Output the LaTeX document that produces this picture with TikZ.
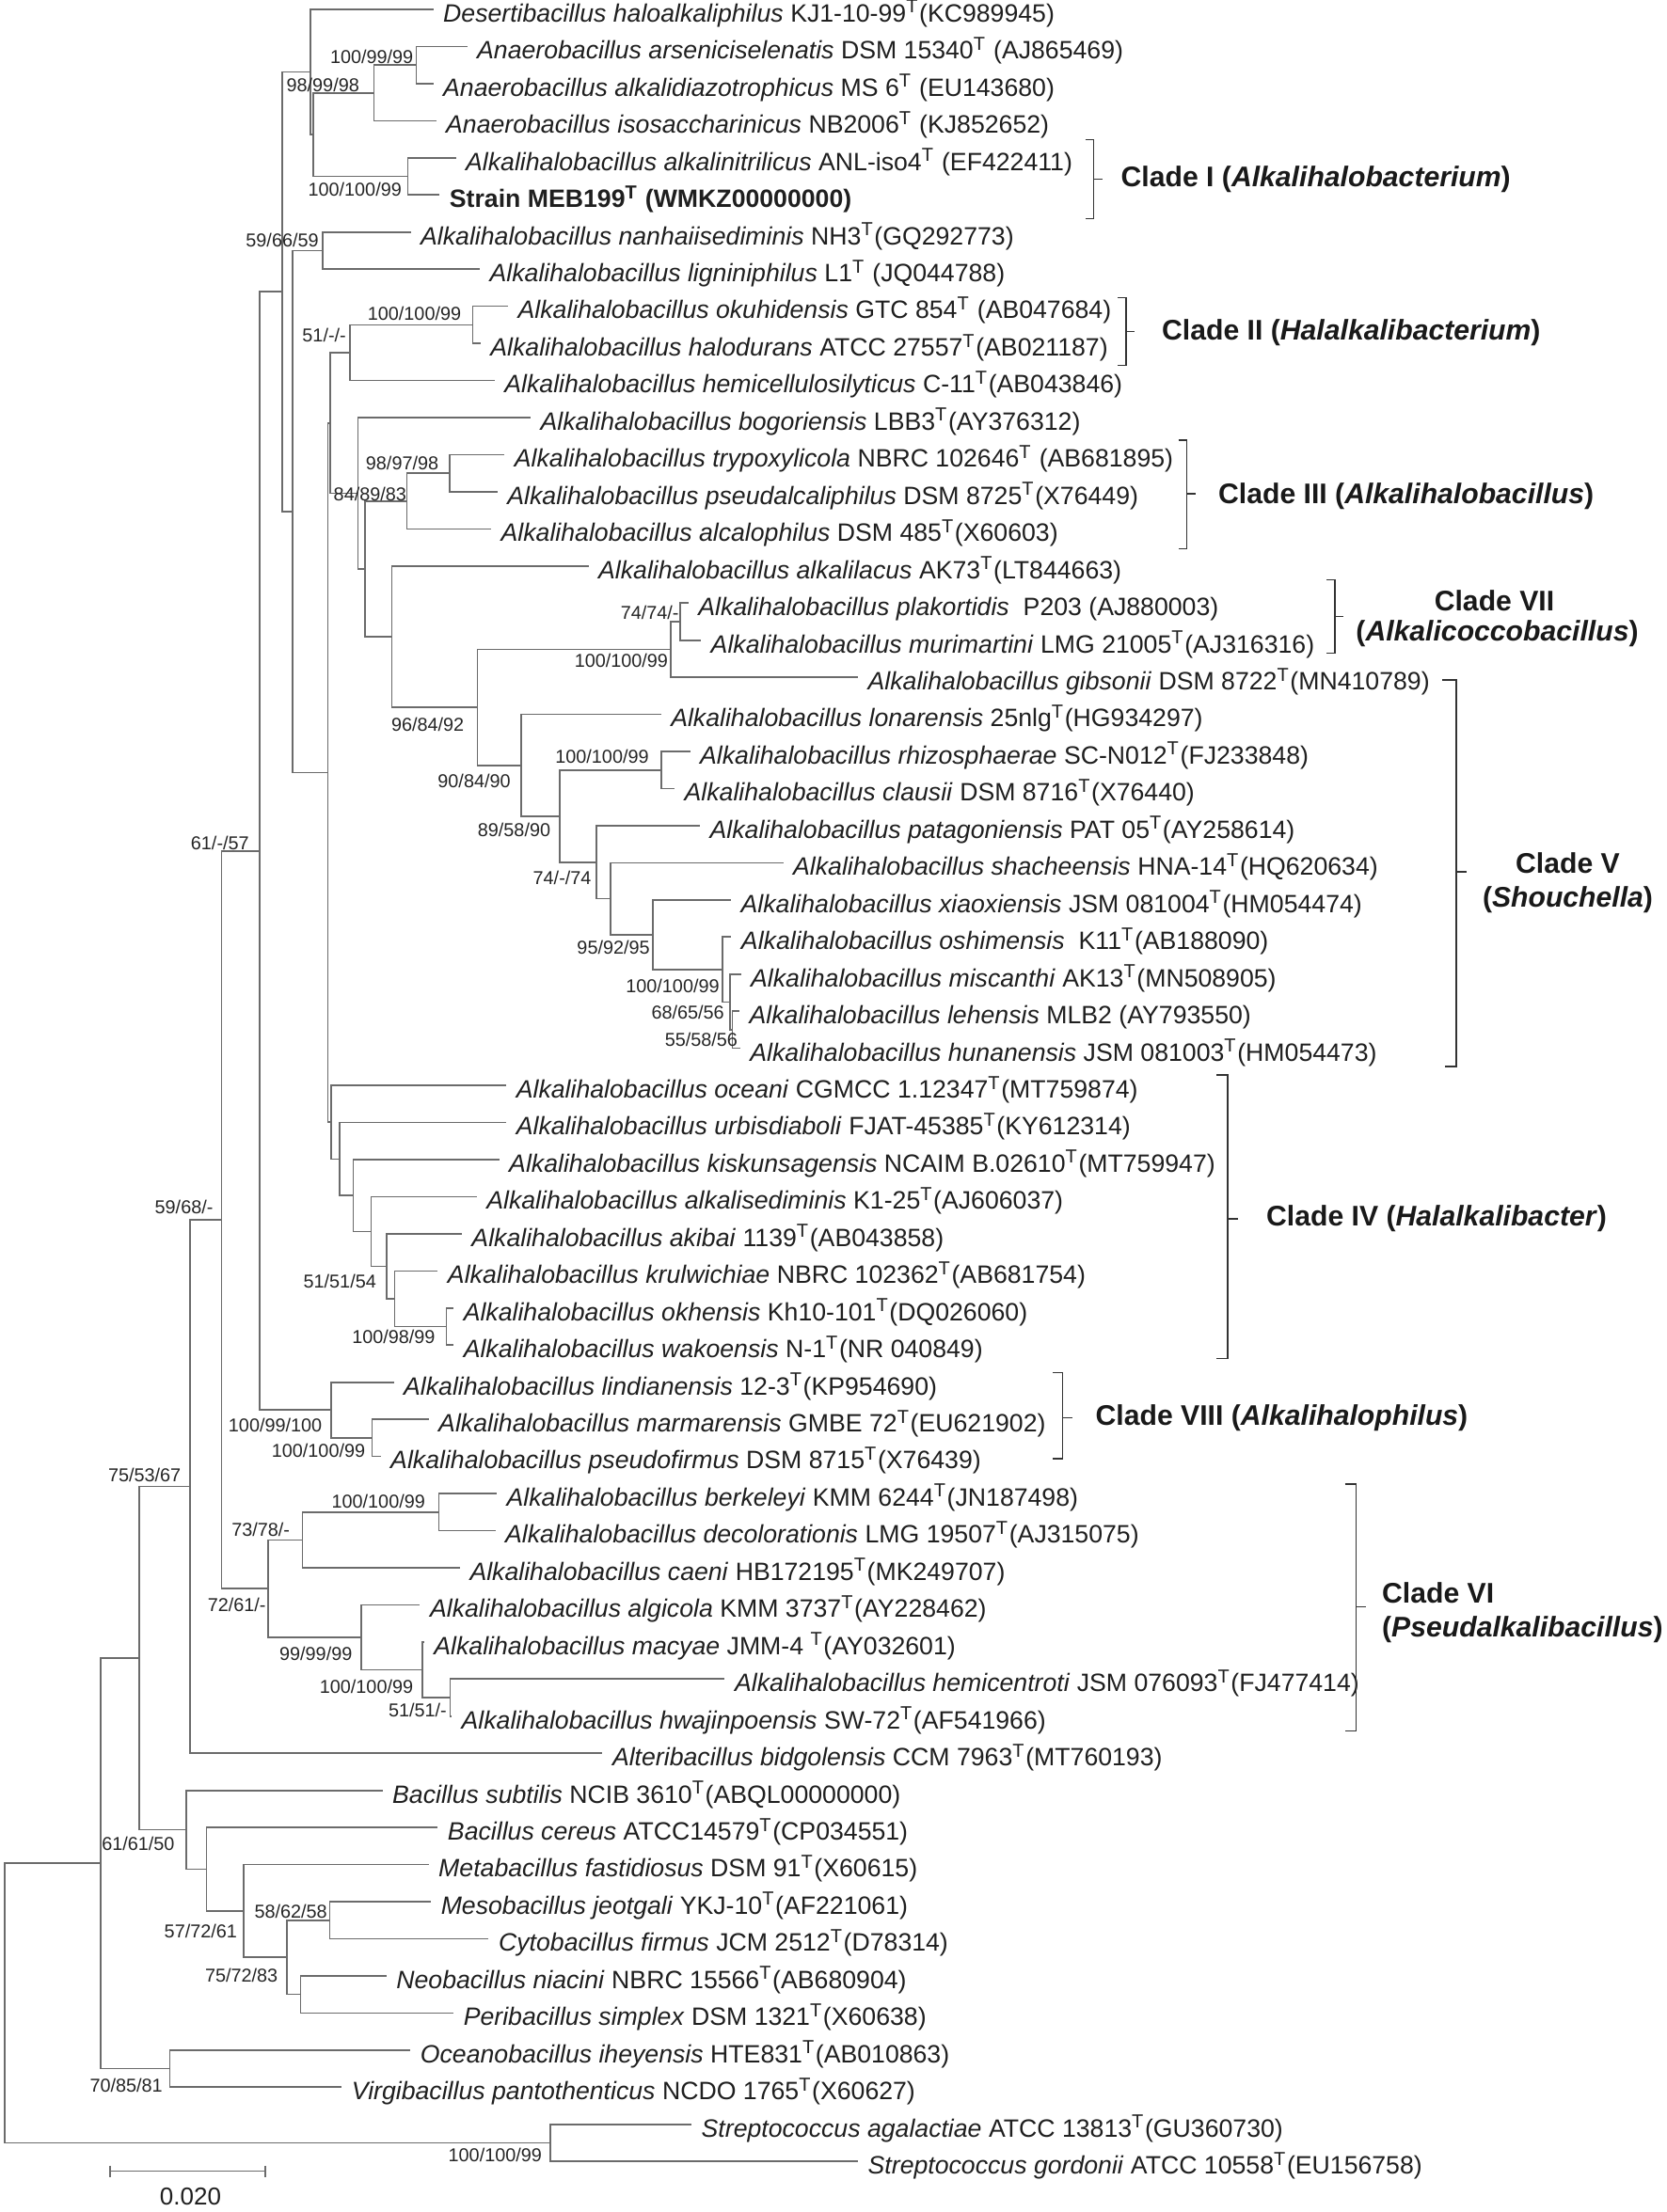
\documentclass[tikz,border=0pt]{standalone}
\usepackage{fontspec}
\setmainfont{Liberation Sans}
\newcommand\leaffont{\fontsize{8.0pt}{9pt}\selectfont}
\newcommand\bsfont{\fontsize{5.95pt}{7pt}\selectfont}
\newcommand\cladefont{\fontsize{9.05pt}{11pt}\selectfont\bfseries}
\newcommand\ST{\textsuperscript{T}}
\newcommand\yy[1]{6.7+(#1-1)*26.3}
\begin{document}
\begin{tikzpicture}[x=0.45pt,y=-0.45pt,
  br/.style={draw=black!58, line width=0.5pt},
  leaf/.style={anchor=west, inner xsep=3pt, inner ysep=0pt, font=\leaffont, text height=0.9em, text depth=0.1em, text=black!88},
  bs/.style={anchor=east, inner sep=0pt, font=\bsfont, text=black!85},
  clade/.style={anchor=west, inner sep=0pt, font=\cladefont, text=black!90},
  cladec/.style={anchor=center, inner sep=0pt, font=\cladefont, text=black!90},
  brk/.style={draw=black!80, line width=0.55pt}]
\fill[white] (0,0) rectangle (1181,1568);
\useasboundingbox (0,0) rectangle (1181,1568);

% ---------- leaves ----------
\node[leaf] (l1) at (307,{\yy{1}}) {\textit{Desertibacillus haloalkaliphilus} KJ1-10-99\ST(KC989945)};
\node[leaf] (l2) at (331,{\yy{2}}) {\textit{Anaerobacillus arseniciselenatis} DSM 15340\ST\ (AJ865469)};
\node[leaf] (l3) at (307,{\yy{3}}) {\textit{Anaerobacillus alkalidiazotrophicus} MS 6\ST\ (EU143680)};
\node[leaf] (l4) at (309,{\yy{4}}) {\textit{Anaerobacillus isosaccharinicus} NB2006\ST\ (KJ852652)};
\node[leaf] (l5) at (323,{\yy{5}}) {\textit{Alkalihalobacillus alkalinitrilicus} ANL-iso4\ST\ (EF422411)};
\node[leaf] (l6) at (311.5,{\yy{6}}) {\textbf{Strain MEB199\ST\ (WMKZ00000000)}};
\node[leaf] (l7) at (291,{\yy{7}}) {\textit{Alkalihalobacillus nanhaiisediminis} NH3\ST(GQ292773)};
\node[leaf] (l8) at (340,{\yy{8}}) {\textit{Alkalihalobacillus ligniniphilus} L1\ST\ (JQ044788)};
\node[leaf] (l9) at (360,{\yy{9}}) {\textit{Alkalihalobacillus okuhidensis} GTC 854\ST\ (AB047684)};
\node[leaf] (l10) at (340.5,{\yy{10}}) {\textit{Alkalihalobacillus halodurans} ATCC 27557\ST(AB021187)};
\node[leaf] (l11) at (350.5,{\yy{11}}) {\textit{Alkalihalobacillus hemicellulosilyticus} C-11\ST(AB043846)};
\node[leaf] (l12) at (376,{\yy{12}}) {\textit{Alkalihalobacillus bogoriensis} LBB3\ST(AY376312)};
\node[leaf] (l13) at (357.5,{\yy{13}}) {\textit{Alkalihalobacillus trypoxylicola} NBRC 102646\ST\ (AB681895)};
\node[leaf] (l14) at (352.5,{\yy{14}}) {\textit{Alkalihalobacillus pseudalcaliphilus} DSM 8725\ST(X76449)};
\node[leaf] (l15) at (348,{\yy{15}}) {\textit{Alkalihalobacillus alcalophilus} DSM 485\ST(X60603)};
\node[leaf] (l16) at (417,{\yy{16}}) {\textit{Alkalihalobacillus alkalilacus} AK73\ST(LT844663)};
\node[leaf] (l17) at (487.8,{\yy{17}}) {\textit{Alkalihalobacillus plakortidis}\ \ P203 (AJ880003)};
\node[leaf] (l18) at (496.7,{\yy{18}}) {\textit{Alkalihalobacillus murimartini} LMG 21005\ST(AJ316316)};
\node[leaf] (l19) at (608,{\yy{19}}) {\textit{Alkalihalobacillus gibsonii} DSM 8722\ST(MN410789)};
\node[leaf] (l20) at (468.4,{\yy{20}}) {\textit{Alkalihalobacillus lonarensis} 25nlg\ST(HG934297)};
\node[leaf] (l21) at (489,{\yy{21}}) {\textit{Alkalihalobacillus rhizosphaerae} SC-N012\ST(FJ233848)};
\node[leaf] (l22) at (478,{\yy{22}}) {\textit{Alkalihalobacillus clausii} DSM 8716\ST(X76440)};
\node[leaf] (l23) at (496,{\yy{23}}) {\textit{Alkalihalobacillus patagoniensis} PAT 05\ST(AY258614)};
\node[leaf] (l24) at (555,{\yy{24}}) {\textit{Alkalihalobacillus shacheensis} HNA-14\ST(HQ620634)};
\node[leaf] (l25) at (518,{\yy{25}}) {\textit{Alkalihalobacillus xiaoxiensis} JSM 081004\ST(HM054474)};
\node[leaf] (l26) at (518.2,{\yy{26}}) {\textit{Alkalihalobacillus oshimensis}\ \ K11\ST(AB188090)};
\node[leaf] (l27) at (525,{\yy{27}}) {\textit{Alkalihalobacillus miscanthi} AK13\ST(MN508905)};
\node[leaf] (l28) at (524,{\yy{28}}) {\textit{Alkalihalobacillus lehensis} MLB2 (AY793550)};
\node[leaf] (l29) at (524.5,{\yy{29}}) {\textit{Alkalihalobacillus hunanensis} JSM 081003\ST(HM054473)};
\node[leaf] (l30) at (358.8,{\yy{30}}) {\textit{Alkalihalobacillus oceani} CGMCC 1.12347\ST(MT759874)};
\node[leaf] (l31) at (358.8,{\yy{31}}) {\textit{Alkalihalobacillus urbisdiaboli} FJAT-45385\ST(KY612314)};
\node[leaf] (l32) at (353.7,{\yy{32}}) {\textit{Alkalihalobacillus kiskunsagensis} NCAIM B.02610\ST(MT759947)};
\node[leaf] (l33) at (337.8,{\yy{33}}) {\textit{Alkalihalobacillus alkalisediminis} K1-25\ST(AJ606037)};
\node[leaf] (l34) at (327.2,{\yy{34}}) {\textit{Alkalihalobacillus akibai} 1139\ST(AB043858)};
\node[leaf] (l35) at (310.2,{\yy{35}}) {\textit{Alkalihalobacillus krulwichiae} NBRC 102362\ST(AB681754)};
\node[leaf] (l36) at (321.4,{\yy{36}}) {\textit{Alkalihalobacillus okhensis} Kh10-101\ST(DQ026060)};
\node[leaf] (l37) at (321.4,{\yy{37}}) {\textit{Alkalihalobacillus wakoensis} N-1\ST(NR 040849)};
\node[leaf] (l38) at (279,{\yy{38}}) {\textit{Alkalihalobacillus lindianensis} 12-3\ST(KP954690)};
\node[leaf] (l39) at (303.7,{\yy{39}}) {\textit{Alkalihalobacillus marmarensis} GMBE 72\ST(EU621902)};
\node[leaf] (l40) at (269.7,{\yy{40}}) {\textit{Alkalihalobacillus pseudofirmus} DSM 8715\ST(X76439)};
\node[leaf] (l41) at (352,{\yy{41}}) {\textit{Alkalihalobacillus berkeleyi} KMM 6244\ST(JN187498)};
\node[leaf] (l42) at (351,{\yy{42}}) {\textit{Alkalihalobacillus decolorationis} LMG 19507\ST(AJ315075)};
\node[leaf] (l43) at (325.9,{\yy{43}}) {\textit{Alkalihalobacillus caeni} HB172195\ST(MK249707)};
\node[leaf] (l44) at (297.6,{\yy{44}}) {\textit{Alkalihalobacillus algicola} KMM 3737\ST(AY228462)};
\node[leaf] (l45) at (300.5,{\yy{45}}) {\textit{Alkalihalobacillus macyae} JMM-4 \ST(AY032601)};
\node[leaf] (l46) at (513.6,{\yy{46}}) {\textit{Alkalihalobacillus hemicentroti} JSM 076093\ST(FJ477414)};
\node[leaf] (l47) at (320,{\yy{47}}) {\textit{Alkalihalobacillus hwajinpoensis} SW-72\ST(AF541966)};
\node[leaf] (l48) at (426.9,{\yy{48}}) {\textit{Alteribacillus bidgolensis} CCM 7963\ST(MT760193)};
\node[leaf] (l49) at (271,{\yy{49}}) {\textit{Bacillus subtilis} NCIB 3610\ST(ABQL00000000)};
\node[leaf] (l50) at (310.2,{\yy{50}}) {\textit{Bacillus cereus} ATCC14579\ST(CP034551)};
\node[leaf] (l51) at (303.7,{\yy{51}}) {\textit{Metabacillus fastidiosus} DSM 91\ST(X60615)};
\node[leaf] (l52) at (305.4,{\yy{52}}) {\textit{Mesobacillus jeotgali} YKJ-10\ST(AF221061)};
\node[leaf] (l53) at (346.3,{\yy{53}}) {\textit{Cytobacillus firmus} JCM 2512\ST(D78314)};
\node[leaf] (l54) at (273.8,{\yy{54}}) {\textit{Neobacillus niacini} NBRC 15566\ST(AB680904)};
\node[leaf] (l55) at (321.4,{\yy{55}}) {\textit{Peribacillus simplex} DSM 1321\ST(X60638)};
\node[leaf] (l56) at (290.8,{\yy{56}}) {\textit{Oceanobacillus iheyensis} HTE831\ST(AB010863)};
\node[leaf] (l57) at (242.2,{\yy{57}}) {\textit{Virgibacillus pantothenticus} NCDO 1765\ST(X60627)};
\node[leaf] (l58) at (490,{\yy{58}}) {\textit{Streptococcus agalactiae} ATCC 13813\ST(GU360730)};
\node[leaf] (l59) at (608,{\yy{59}}) {\textit{Streptococcus gordonii} ATCC 10558\ST(EU156758)};

% ---------- internal nodes ----------
\coordinate (D) at (295,{\yy{2.5}});
\coordinate (C) at (265,{\yy{3.25}});
\coordinate (E) at (289,{\yy{5.5}});
\coordinate (B) at (222,{\yy{4.375}});
\coordinate (A) at (220,{\yy{2.6875}});
\coordinate (F) at (228.6,{\yy{7.5}});
\coordinate (J) at (335,{\yy{9.5}});
\coordinate (I) at (248,{\yy{10.25}});
\coordinate (M2) at (318.7,{\yy{13.5}});
\coordinate (M) at (288.4,{\yy{14.25}});
\coordinate (W2) at (482,{\yy{17.5}});
\coordinate (W1) at (475.5,{\yy{18.25}});
\coordinate (X3) at (468.5,{\yy{21.5}});
\coordinate (X9) at (519,{\yy{28.5}});
\coordinate (X8) at (517.5,{\yy{27.75}});
\coordinate (X7) at (512,{\yy{26.875}});
\coordinate (X6) at (462.5,{\yy{25.9375}});
\coordinate (X5) at (432.8,{\yy{24.96875}});
\coordinate (X4) at (422.8,{\yy{23.984375}});
\coordinate (X2) at (396.6,{\yy{22.7421875}});
\coordinate (X1) at (369.4,{\yy{21.37109375}});
\coordinate (N1) at (338.4,{\yy{19.81055}});
\coordinate (N) at (277.6,{\yy{17.90527}});
\coordinate (L1) at (258.5,{\yy{16.07764}});
\coordinate (L2) at (253.7,{\yy{14.03882}});
\coordinate (K) at (234,{\yy{12.14441}});
\coordinate (O7) at (316.3,{\yy{36.5}});
\coordinate (O6) at (279.6,{\yy{35.75}});
\coordinate (O5) at (273.8,{\yy{34.875}});
\coordinate (O4) at (263,{\yy{33.9375}});
\coordinate (O3) at (250.3,{\yy{32.96875}});
\coordinate (O2) at (240.8,{\yy{31.984375}});
\coordinate (O1) at (234.7,{\yy{30.9921875}});
\coordinate (H) at (232.3,{\yy{21.56830}});
\coordinate (G) at (207.5,{\yy{14.53415}});
\coordinate (P1) at (200,{\yy{8.61083}});
\coordinate (V2) at (263.6,{\yy{39.5}});
\coordinate (V1) at (234.7,{\yy{38.75}});
\coordinate (P2) at (184,{\yy{23.68041}});
\coordinate (Q2) at (311,{\yy{41.5}});
\coordinate (Q1) at (214.3,{\yy{42.25}});
\coordinate (Q5) at (319,{\yy{46.5}});
\coordinate (Q4) at (299.3,{\yy{45.75}});
\coordinate (Q3) at (256,{\yy{44.875}});
\coordinate (Q) at (189.8,{\yy{43.5625}});
\coordinate (P3) at (157,{\yy{33.62146}});
\coordinate (P4) at (134.7,{\yy{40.81073}});
\coordinate (R4) at (233.7,{\yy{52.5}});
\coordinate (R5) at (213,{\yy{54.5}});
\coordinate (R3) at (203.4,{\yy{53.5}});
\coordinate (R2) at (172.8,{\yy{52.25}});
\coordinate (R1) at (146.3,{\yy{51.125}});
\coordinate (R) at (132,{\yy{50.0625}});
\coordinate (P5) at (98.6,{\yy{45.43661}});
\coordinate (T) at (120.4,{\yy{56.5}});
\coordinate (P6) at (71.4,{\yy{50.96831}});
\coordinate (S) at (390,{\yy{58.5}});
\coordinate (Root) at (3.4,{\yy{54.73415}});

% ---------- branches ----------
\draw[br] (A) |- (l1.west); \draw[br] (A) |- (B);
\draw[br] (B) |- (C); \draw[br] (B) |- (E);
\draw[br] (C) |- (D); \draw[br] (C) |- (l4.west);
\draw[br] (D) |- (l2.west); \draw[br] (D) |- (l3.west);
\draw[br] (E) |- (l5.west); \draw[br] (E) |- (l6.west);
\draw[br] (P1) |- (A); \draw[br] (P1) |- (G);
\draw[br] (G) |- (F); \draw[br] (G) |- (H);
\draw[br] (F) |- (l7.west); \draw[br] (F) |- (l8.west);
\draw[br] (H) |- (K); \draw[br] (H) |- (O1);
\draw[br] (K) |- (I); \draw[br] (K) |- (L2);
\draw[br] (I) |- (J); \draw[br] (I) |- (l11.west);
\draw[br] (J) |- (l9.west); \draw[br] (J) |- (l10.west);
\draw[br] (L2) |- (l12.west); \draw[br] (L2) |- (L1);
\draw[br] (L1) |- (M); \draw[br] (L1) |- (N);
\draw[br] (M) |- (M2); \draw[br] (M) |- (l15.west);
\draw[br] (M2) |- (l13.west); \draw[br] (M2) |- (l14.west);
\draw[br] (N) |- (l16.west); \draw[br] (N) |- (N1);
\draw[br] (N1) |- (W1); \draw[br] (N1) |- (X1);
\draw[br] (W1) |- (W2); \draw[br] (W1) |- (l19.west);
\draw[br] (W2) |- (l17.west); \draw[br] (W2) |- (l18.west);
\draw[br] (X1) |- (l20.west); \draw[br] (X1) |- (X2);
\draw[br] (X2) |- (X3); \draw[br] (X2) |- (X4);
\draw[br] (X3) |- (l21.west); \draw[br] (X3) |- (l22.west);
\draw[br] (X4) |- (l23.west); \draw[br] (X4) |- (X5);
\draw[br] (X5) |- (l24.west); \draw[br] (X5) |- (X6);
\draw[br] (X6) |- (l25.west); \draw[br] (X6) |- (X7);
\draw[br] (X7) |- (l26.west); \draw[br] (X7) |- (X8);
\draw[br] (X8) |- (l27.west); \draw[br] (X8) |- (X9);
\draw[br] (X9) |- (l28.west); \draw[br] (X9) |- (l29.west);
\draw[br] (O1) |- (l30.west); \draw[br] (O1) |- (O2);
\draw[br] (O2) |- (l31.west); \draw[br] (O2) |- (O3);
\draw[br] (O3) |- (l32.west); \draw[br] (O3) |- (O4);
\draw[br] (O4) |- (l33.west); \draw[br] (O4) |- (O5);
\draw[br] (O5) |- (l34.west); \draw[br] (O5) |- (O6);
\draw[br] (O6) |- (l35.west); \draw[br] (O6) |- (O7);
\draw[br] (O7) |- (l36.west); \draw[br] (O7) |- (l37.west);
\draw[br] (P2) |- (P1); \draw[br] (P2) |- (V1);
\draw[br] (V1) |- (l38.west); \draw[br] (V1) |- (V2);
\draw[br] (V2) |- (l39.west); \draw[br] (V2) |- (l40.west);
\draw[br] (P3) |- (P2); \draw[br] (P3) |- (Q);
\draw[br] (Q) |- (Q1); \draw[br] (Q) |- (Q3);
\draw[br] (Q1) |- (Q2); \draw[br] (Q1) |- (l43.west);
\draw[br] (Q2) |- (l41.west); \draw[br] (Q2) |- (l42.west);
\draw[br] (Q3) |- (l44.west); \draw[br] (Q3) |- (Q4);
\draw[br] (Q4) |- (l45.west); \draw[br] (Q4) |- (Q5);
\draw[br] (Q5) |- (l46.west); \draw[br] (Q5) |- (l47.west);
\draw[br] (P4) |- (P3); \draw[br] (P4) |- (l48.west);
\draw[br] (P5) |- (P4); \draw[br] (P5) |- (R);
\draw[br] (R) |- (l49.west); \draw[br] (R) |- (R1);
\draw[br] (R1) |- (l50.west); \draw[br] (R1) |- (R2);
\draw[br] (R2) |- (l51.west); \draw[br] (R2) |- (R3);
\draw[br] (R3) |- (R4); \draw[br] (R3) |- (R5);
\draw[br] (R4) |- (l52.west); \draw[br] (R4) |- (l53.west);
\draw[br] (R5) |- (l54.west); \draw[br] (R5) |- (l55.west);
\draw[br] (P6) |- (P5); \draw[br] (P6) |- (T);
\draw[br] (T) |- (l56.west); \draw[br] (T) |- (l57.west);
\draw[br] (Root) |- (P6); \draw[br] (Root) |- (S);
\draw[br] (S) |- (l58.west); \draw[br] (S) |- (l59.west);

% ---------- bootstrap values ----------
\node[bs] (b1) at (293.3,40) {100/99/99};
\node[bs] (b2) at (255,60.4) {98/99/98};
\node[bs] (b3) at (285,134.4) {100/100/99};
\node[bs] (b4) at (226.2,170) {59/66/59};
\node[bs] (b5) at (327.2,222.2) {100/100/99};
\node[bs] (b6) at (245.6,237.8) {51/-/-};
\node[bs] (b7) at (311.2,328.4) {98/97/98};
\node[bs] (b8) at (288.4,350) {84/89/83};
\node[bs] (b9) at (481.5,434.4) {74/74/-};
\node[bs] (b10) at (473.8,468.4) {100/100/99};
\node[bs] (b11) at (329.3,513.8) {96/84/92};
\node[bs] (b12) at (460.2,536) {100/100/99};
\node[bs] (b13) at (362.2,553.3) {90/84/90};
\node[bs] (b14) at (390.5,588.4) {89/58/90};
\node[bs] (b15) at (419.4,622.2) {74/-/74};
\node[bs] (b16) at (460.9,671.6) {95/92/95};
\node[bs] (b17) at (510.2,698.9) {100/100/99};
\node[bs] (b18) at (513.6,717.8) {68/65/56};
\node[bs] (b19) at (523.1,736.7) {55/58/56};
\node[bs] (b20) at (176.9,597.8) {61/-/57};
\node[bs] (b21) at (151.4,855.6) {59/68/-};
\node[bs] (b22) at (267,908.2) {51/51/54};
\node[bs] (b23) at (308.8,947.3) {100/98/99};
\node[bs] (b24) at (228.6,1010) {100/99/100};
\node[bs] (b25) at (259.2,1028.2) {100/100/99};
\node[bs] (b26) at (128.6,1045.6) {75/53/67};
\node[bs] (b27) at (301.7,1064.4) {100/100/99};
\node[bs] (b28) at (205.8,1084.4) {73/78/-};
\node[bs] (b29) at (188.8,1137.8) {72/61/-};
\node[bs] (b30) at (250,1172.2) {99/99/99};
\node[bs] (b31) at (293.2,1195.6) {100/100/99};
\node[bs] (b32) at (317,1212.2) {51/51/-};
\node[bs] (b33) at (124.1,1306.7) {61/61/50};
\node[bs] (b34) at (232.3,1355.1) {58/62/58};
\node[bs] (b35) at (168.4,1368.9) {57/72/61};
\node[bs] (b36) at (197.3,1400) {75/72/83};
\node[bs] (b37) at (115.6,1478.2) {70/85/81};
\node[bs] (b38) at (384.4,1527.8) {100/100/99};

% ---------- clade brackets ----------
\draw[brk] (769,99) -- (775,99) -- (775,155) -- (769,155); \draw[brk] (775,127) -- (781,127);
\draw[brk] (792,211) -- (798,211) -- (798,259) -- (792,259); \draw[brk] (798,235) -- (804,235);
\draw[brk] (835,312) -- (841,312) -- (841,389) -- (835,389); \draw[brk] (841,350) -- (847,350);
\draw[brk] (940,411) -- (946,411) -- (946,463) -- (940,463); \draw[brk] (946,437) -- (952,437);
\draw[brk] (1022,482) -- (1032,482) -- (1032,756) -- (1024,756); \draw[brk] (1032,618) -- (1039,618);
\draw[brk] (862,762) -- (870,762) -- (870,963) -- (862,963); \draw[brk] (870,864) -- (877,864);
\draw[brk] (746,973) -- (753,973) -- (753,1034) -- (746,1034); \draw[brk] (753,1005) -- (760,1005);
\draw[brk] (953,1052) -- (961,1052) -- (961,1227) -- (953,1227); \draw[brk] (961,1139) -- (968,1139);

\node[clade] (c1) at (794,127) {Clade I (\textit{Alkalihalobacterium})};
\node[clade] (c2) at (823,235.6) {Clade II (\textit{Halalkalibacterium})};
\node[clade] (c3) at (863,351.6) {Clade III (\textit{Alkalihalobacillus})};
\node[cladec] (c7a) at (1059,426) {Clade VII};
\node[cladec] (c7b) at (1061,449) {(\textit{Alkalicoccobacillus})};
\node[cladec] (c5a) at (1111,612) {Clade V};
\node[cladec] (c5b) at (1111,638) {(\textit{Shouchella})};
\node[clade] (c4) at (897,864) {Clade IV (\textit{Halalkalibacter})};
\node[clade] (c8) at (776,1005) {Clade VIII (\textit{Alkalihalophilus})};
\node[clade] (c6a) at (979,1129) {Clade VI};
\node[clade] (c6b) at (979,1155) {(\textit{Pseudalkalibacillus})};

% ---------- scale bar ----------
\coordinate (sb1) at (78,1539);
\coordinate (sb2) at (188,1539);
\draw[br] (sb1) -- (sb2);
\draw[br] ([yshift=4*0.45pt]sb1) -- ([yshift=-4*0.45pt]sb1);
\draw[br] ([yshift=4*0.45pt]sb2) -- ([yshift=-4*0.45pt]sb2);
\node[font=\fontsize{7.8pt}{9pt}\selectfont, text=black!88, inner sep=0pt] (sbt) at (135,1557) {0.020};
\end{tikzpicture}
\end{document}
